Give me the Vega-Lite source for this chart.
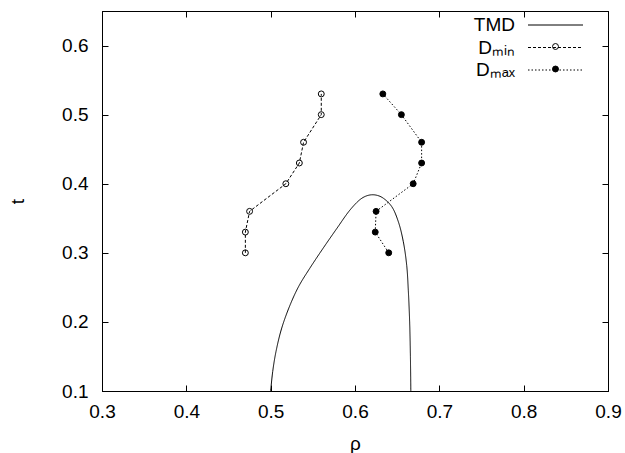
{
  "$schema": "https://vega.github.io/schema/vega-lite/v6.json",
  "width": 506,
  "height": 380,
  "autosize": {"type": "none"},
  "padding": {"left": 102, "top": 11, "right": 17, "bottom": 62},
  "background": "white",
  "config": {
    "view": {"stroke": "black", "strokeWidth": 1},
    "axis": {
      "grid": false,
      "domainColor": "black",
      "tickColor": "black",
      "labelColor": "black",
      "titleColor": "black",
      "labelFont": "Liberation Sans",
      "titleFont": "Liberation Sans",
      "labelFontSize": 19,
      "titleFontSize": 19,
      "titleFontWeight": "normal",
      "tickSize": -6,
      "tickWidth": 1,
      "domainWidth": 1
    },
    "legend": {"labelFont": "Liberation Sans", "labelColor": "black"}
  },
  "data": {
    "values": [
      {"s": "TMD", "i": 0, "rho": 0.5, "t": 0.1},
      {"s": "TMD", "i": 1, "rho": 0.5024, "t": 0.128},
      {"s": "TMD", "i": 2, "rho": 0.5063, "t": 0.157},
      {"s": "TMD", "i": 3, "rho": 0.5131, "t": 0.191},
      {"s": "TMD", "i": 4, "rho": 0.5232, "t": 0.225},
      {"s": "TMD", "i": 5, "rho": 0.5335, "t": 0.252},
      {"s": "TMD", "i": 6, "rho": 0.5466, "t": 0.278},
      {"s": "TMD", "i": 7, "rho": 0.5624, "t": 0.307},
      {"s": "TMD", "i": 8, "rho": 0.5783, "t": 0.335},
      {"s": "TMD", "i": 9, "rho": 0.5941, "t": 0.362},
      {"s": "TMD", "i": 10, "rho": 0.6059, "t": 0.377},
      {"s": "TMD", "i": 11, "rho": 0.6128, "t": 0.382},
      {"s": "TMD", "i": 12, "rho": 0.6198, "t": 0.384},
      {"s": "TMD", "i": 13, "rho": 0.6268, "t": 0.383},
      {"s": "TMD", "i": 14, "rho": 0.6336, "t": 0.379},
      {"s": "TMD", "i": 15, "rho": 0.6435, "t": 0.367},
      {"s": "TMD", "i": 16, "rho": 0.6514, "t": 0.345},
      {"s": "TMD", "i": 17, "rho": 0.6573, "t": 0.316},
      {"s": "TMD", "i": 18, "rho": 0.6613, "t": 0.282},
      {"s": "TMD", "i": 19, "rho": 0.6632, "t": 0.246},
      {"s": "TMD", "i": 20, "rho": 0.6648, "t": 0.2},
      {"s": "TMD", "i": 21, "rho": 0.6657, "t": 0.15},
      {"s": "TMD", "i": 22, "rho": 0.6662, "t": 0.1},
      {"s": "Dmin", "i": 0, "rho": 0.47, "t": 0.3},
      {"s": "Dmin", "i": 1, "rho": 0.47, "t": 0.33},
      {"s": "Dmin", "i": 2, "rho": 0.475, "t": 0.36},
      {"s": "Dmin", "i": 3, "rho": 0.518, "t": 0.4},
      {"s": "Dmin", "i": 4, "rho": 0.534, "t": 0.43},
      {"s": "Dmin", "i": 5, "rho": 0.539, "t": 0.46},
      {"s": "Dmin", "i": 6, "rho": 0.56, "t": 0.5},
      {"s": "Dmin", "i": 7, "rho": 0.56, "t": 0.53},
      {"s": "Dmax", "i": 0, "rho": 0.64, "t": 0.3},
      {"s": "Dmax", "i": 1, "rho": 0.624, "t": 0.33},
      {"s": "Dmax", "i": 2, "rho": 0.625, "t": 0.36},
      {"s": "Dmax", "i": 3, "rho": 0.669, "t": 0.4},
      {"s": "Dmax", "i": 4, "rho": 0.679, "t": 0.43},
      {"s": "Dmax", "i": 5, "rho": 0.679, "t": 0.46},
      {"s": "Dmax", "i": 6, "rho": 0.655, "t": 0.5},
      {"s": "Dmax", "i": 7, "rho": 0.633, "t": 0.53}
    ]
  },
  "resolve": {"axis": {"x": "independent", "y": "independent"}},
  "layer": [
    {
      "transform": [{"filter": "datum.s == 'TMD'"}],
      "mark": {"type": "line", "color": "black", "strokeWidth": 1, "interpolate": "catmull-rom"},
      "encoding": {
        "x": {
          "field": "rho", "type": "quantitative",
          "scale": {"domain": [0.3, 0.9], "nice": false, "zero": false},
          "axis": {"orient": "bottom", "values": [0.3, 0.4, 0.5, 0.6, 0.7, 0.8, 0.9], "format": ".1f", "labelPadding": 17.5, "title": "ρ", "titlePadding": 12.5, "labelFlush": false}
        },
        "y": {
          "field": "t", "type": "quantitative",
          "scale": {"domain": [0.1, 0.65], "nice": false, "zero": false},
          "axis": {"orient": "left", "values": [0.1, 0.2, 0.3, 0.4, 0.5, 0.6], "format": ".1f", "labelPadding": 20, "title": "t", "titlePadding": 34, "labelFlush": false}
        },
        "order": {"field": "i", "type": "quantitative"},
        "strokeDash": {
          "field": "s", "type": "nominal",
          "scale": {"domain": ["TMD", "Dmin", "Dmax"], "range": [[1, 0], [3, 2], [1.5, 2]]},
          "legend": {
            "orient": "none", "legendX": 426, "legendY": 4.5, "title": null, "padding": 0,
            "symbolType": "M-20,0H20", "symbolSize": 7.5625, "symbolOffset": 18, "symbolStrokeWidth": 1, "symbolStrokeColor": "black",
            "labelAlign": "right", "labelOffset": -50, "labelFontSize": 19, "rowPadding": 2.5,
            "labelExpr": "datum.value == 'Dmin' ? 'D\u2098\u1d62\u2099' : datum.value == 'Dmax' ? 'D\u2098\u2090\u2093' : datum.value"
          }
        }
      }
    },
    {
      "transform": [{"filter": "datum.s != 'TMD'"}],
      "mark": {"type": "line", "color": "black", "strokeWidth": 1},
      "encoding": {
        "x": {"field": "rho", "type": "quantitative", "axis": null},
        "y": {"field": "t", "type": "quantitative", "axis": null},
        "order": {"field": "i", "type": "quantitative"},
        "strokeDash": {"field": "s", "type": "nominal", "legend": null}
      }
    },
    {
      "transform": [{"filter": "datum.s != 'TMD'"}],
      "mark": {"type": "point", "shape": "circle", "size": 35, "stroke": "black", "strokeWidth": 1, "opacity": 1},
      "encoding": {
        "x": {
          "field": "rho", "type": "quantitative",
          "axis": {"orient": "top", "values": [0.3, 0.4, 0.5, 0.6, 0.7, 0.8, 0.9], "labels": false, "title": null}
        },
        "y": {
          "field": "t", "type": "quantitative",
          "axis": {"orient": "right", "values": [0.1, 0.2, 0.3, 0.4, 0.5, 0.6], "labels": false, "title": null}
        },
        "fill": {
          "field": "s", "type": "nominal",
          "scale": {"domain": ["Dmin", "Dmax"], "range": ["transparent", "black"]},
          "legend": {
            "orient": "none", "legendX": 426, "legendY": 26, "title": null, "padding": 0,
            "symbolType": "circle", "symbolSize": 35, "symbolOffset": 18, "symbolStrokeWidth": 1, "symbolStrokeColor": "black",
            "labelAlign": "right", "labelOffset": -50, "labelFontSize": 19, "labelOpacity": 0, "rowPadding": 2.5,
            "labelExpr": "datum.value == 'Dmin' ? 'D\u2098\u1d62\u2099' : datum.value == 'Dmax' ? 'D\u2098\u2090\u2093' : datum.value"
          }
        }
      }
    }
  ]
}
